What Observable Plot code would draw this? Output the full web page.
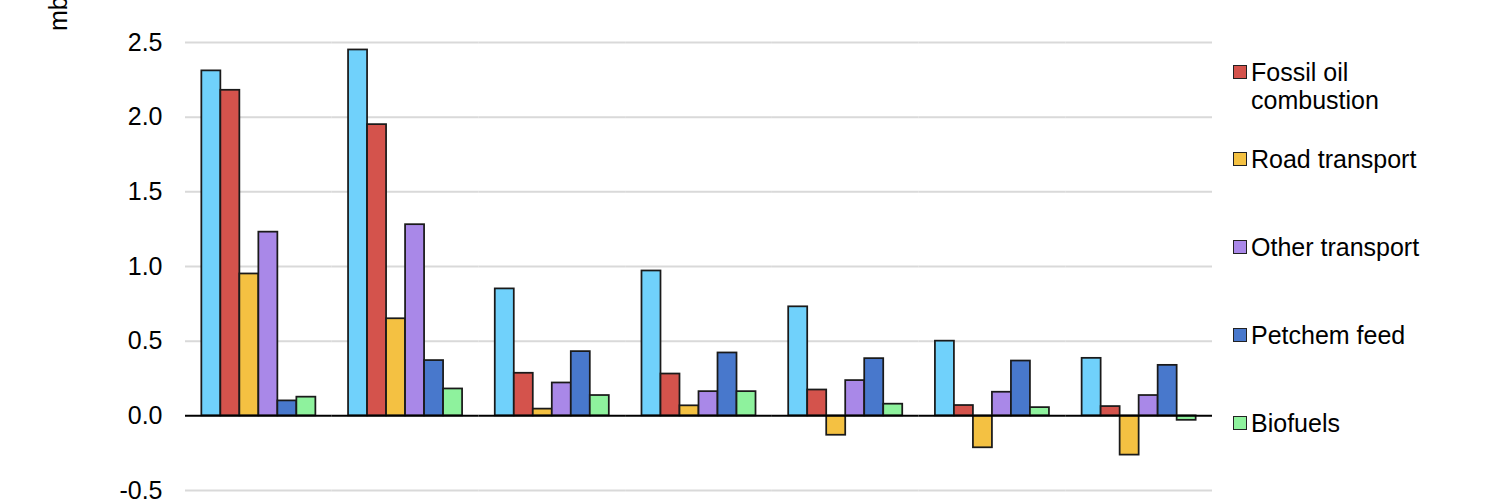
<!DOCTYPE html>
<html>
<head>
<meta charset="utf-8">
<script src="https://cdn.jsdelivr.net/npm/d3@7"></script>
<script src="https://cdn.jsdelivr.net/npm/@observablehq/plot@0.6"></script>
<style>
  html, body { margin: 0; padding: 0; background: #fff; }
  #wrap { position: relative; width: 1500px; height: 500px; overflow: hidden; font-family: "Liberation Sans", Arial, sans-serif; }
  #legend { position: absolute; left: 1233px; top: 0; font-size: 25px; color: #000; }
  .item { position: absolute; left: 0; display: flex; align-items: flex-start; white-space: nowrap; line-height: 28px; }
  .sw { width: 12px; height: 12px; border: 1.5px solid #222; margin-top: 7px; margin-right: 4px; flex: none; }
</style>
</head>
<body>
<div id="wrap"><div id="chart"></div><div id="legend"></div></div>
<script>
const groups = ["A", "B", "C", "D", "E", "F", "G"];
const seriesNames = ["Total", "Fossil oil combustion", "Road transport", "Other transport", "Petchem feed", "Biofuels"];
const legendLabels = ["Fossil oil<br>combustion", "Road transport", "Other transport", "Petchem feed", "Biofuels"];
const colors = ["#70d1fb", "#d4534c", "#f4c142", "#a988e8", "#4878cc", "#8ef29d"];
const total      = [2.31, 2.45, 0.85, 0.97, 0.73, 0.50, 0.385];
const fossil     = [2.18, 1.95, 0.285, 0.28, 0.173, 0.069, 0.062];
const road       = [0.95, 0.65, 0.045, 0.067, -0.13, -0.214, -0.263];
const other      = [1.23, 1.28, 0.22, 0.162, 0.236, 0.158, 0.136];
const petchem    = [0.10, 0.37, 0.43, 0.421, 0.383, 0.367, 0.338];
const biofuels   = [0.125, 0.18, 0.136, 0.162, 0.078, 0.055, -0.03];
const yTicks = [-0.5, 0, 0.5, 1.0, 1.5, 2.0, 2.5];
const unitLabel = "mb/d";

const seriesValues = [total, fossil, road, other, petchem, biofuels];
const rows = [];
groups.forEach((g, gi) => seriesNames.forEach((s, si) => rows.push({group: g, series: s, value: seriesValues[si][gi]})));

const chart = Plot.plot({
  width: 1500,
  height: 500,
  marginLeft: 185,
  marginRight: 288,
  marginTop: 42,
  marginBottom: 10,
  style: {fontFamily: "Liberation Sans, Arial, sans-serif", fontSize: "25px", color: "#000", background: "#fff"},
  facet: {data: rows, x: "group"},
  fx: {domain: groups, paddingInner: 0, paddingOuter: 0, round: false, axis: null, label: null},
  x: {domain: seriesNames, paddingInner: 0, paddingOuter: 0.86, round: false, axis: null},
  y: {domain: [-0.5, 2.5], ticks: yTicks, tickFormat: d => d.toFixed(1), tickSize: 0, tickPadding: 23, label: null},
  color: {domain: seriesNames, range: colors},
  marks: [
    Plot.ruleY(yTicks.filter(d => d !== 0), {stroke: "#d9d9d9", strokeWidth: 2}),
    Plot.barY(rows, {x: "series", y: "value", fill: "series", stroke: "#1a1a1a", strokeWidth: 1.75}),
    Plot.ruleY([0], {stroke: "#000", strokeWidth: 2})
  ]
});
document.getElementById("chart").appendChild(chart);

// rotated unit label (top part cropped like the reference)
const svg = d3.select(chart.tagName.toLowerCase() === "svg" ? chart : chart.querySelector("svg"));
svg.append("text")
  .attr("transform", "translate(67,31) rotate(-90)")
  .attr("text-anchor", "start")
  .attr("font-size", 25)
  .attr("fill", "#000")
  .text(unitLabel);

// legend
const centers = [72, 159, 247, 335, 423];
const legend = d3.select("#legend");
legendLabels.forEach((s, i) => {
  const item = legend.append("div").attr("class", "item").style("top", (centers[i] - 14) + "px");
  item.append("div").attr("class", "sw").style("background", colors[i + 1]);
  item.append("div").html(s);
});
</script>
</body>
</html>
